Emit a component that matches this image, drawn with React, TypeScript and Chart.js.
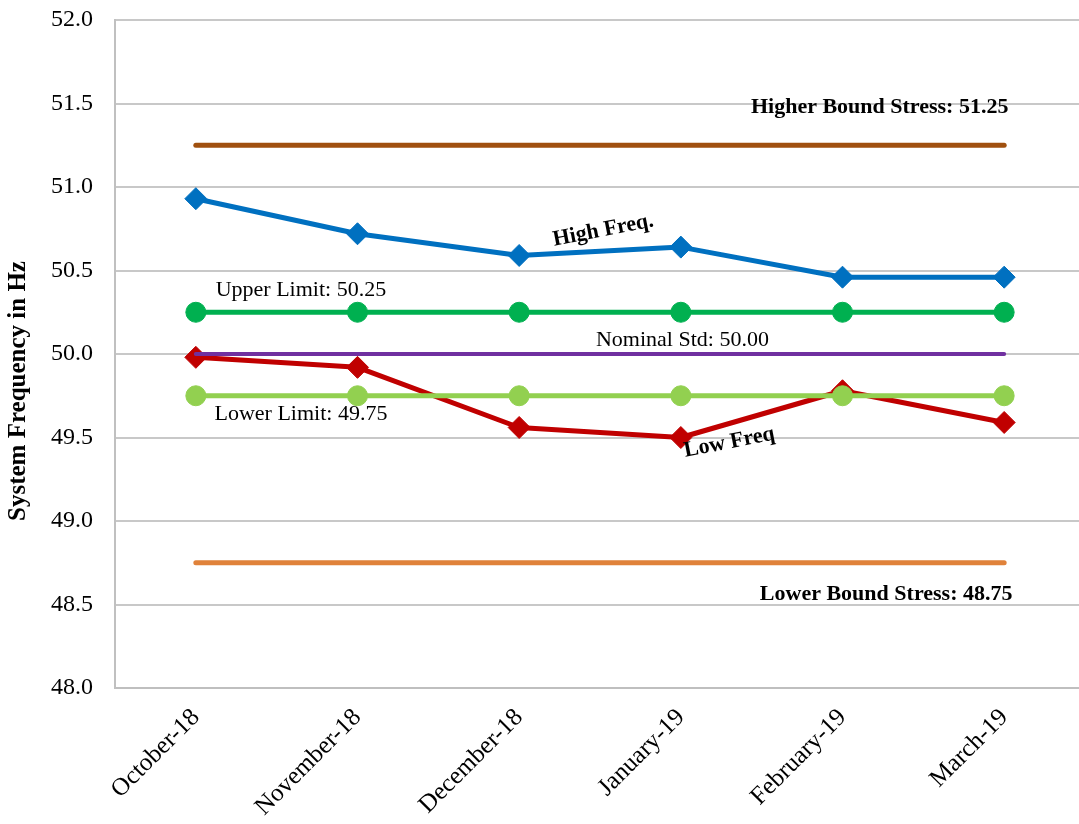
import React, { useEffect, useRef } from "react";
import { Chart, registerables } from "chart.js";

Chart.register(...registerables);

const categories = ["October-18", "November-18", "December-18", "January-19", "February-19", "March-19"];
const highFreq = [50.93, 50.72, 50.59, 50.64, 50.46, 50.46];
const lowFreq = [49.98, 49.92, 49.56, 49.5, 49.78, 49.59];
const higherBound = [51.25, 51.25, 51.25, 51.25, 51.25, 51.25];
const upperLimit = [50.25, 50.25, 50.25, 50.25, 50.25, 50.25];
const nominal = [50.0, 50.0, 50.0, 50.0, 50.0, 50.0];
const lowerLimit = [49.75, 49.75, 49.75, 49.75, 49.75, 49.75];
const lowerBound = [48.75, 48.75, 48.75, 48.75, 48.75, 48.75];

const yMin = 48;
const yMax = 52;
const yStep = 0.5;
const yTitle = "System Frequency in Hz";

// text annotations: text, category index (fractional), value, bold, angle deg
const labelTexts = ["Higher Bound Stress: 51.25", "High Freq.", "Upper Limit: 50.25", "Nominal Std: 50.00", "Lower Limit: 49.75", "Low Freq", "Lower Bound Stress: 48.75"];
const labelIdx = [4.23, 2.52, 0.65, 3.01, 0.65, 3.3, 4.27];
const labelVal = [51.48, 50.74, 50.38, 50.08, 49.64, 49.47, 48.56];
const labelBold = [true, true, false, false, false, true, true];
const labelAngle = [0, -11, 0, 0, 0, -11, 0];

const FONT = "'Liberation Serif', 'DejaVu Serif', serif";

export default function App() {
  const ref = useRef<HTMLCanvasElement | null>(null);
  useEffect(() => {
    document.body.style.margin = "0";
    document.documentElement.style.overflow = "hidden";
    document.body.style.overflow = "hidden";
    const canvas = ref.current;
    if (!canvas) return;

    const textPlugin = {
      id: "textLabels",
      afterDatasetsDraw(chart: any) {
        const ctx = chart.ctx;
        const xs = chart.scales.x;
        const ys = chart.scales.y;
        ctx.save();
        ctx.fillStyle = "#000";
        ctx.textAlign = "center";
        ctx.textBaseline = "middle";
        for (let i = 0; i < labelTexts.length; i++) {
          const px = xs.getPixelForValue(labelIdx[i]);
          const py = ys.getPixelForValue(labelVal[i]);
          ctx.save();
          ctx.translate(px, py);
          ctx.rotate((labelAngle[i] * Math.PI) / 180);
          ctx.font = (labelBold[i] ? "bold " : "") + "22px " + FONT;
          ctx.fillText(labelTexts[i], 0, 0);
          ctx.restore();
        }
        // y-axis title
        const ca = chart.chartArea;
        ctx.save();
        ctx.translate(19, (ca.top + ca.bottom) / 2 + 37);
        ctx.rotate(-Math.PI / 2);
        ctx.font = "bold 25px " + FONT;
        ctx.fillText(yTitle, 0, 0);
        ctx.restore();
        ctx.restore();
      },
    };

    const mk = (label: string, data: number[], color: string, width: number, style: any, radius: number, order: number) => ({
      label,
      data,
      borderColor: color,
      backgroundColor: color,
      borderWidth: width,
      borderCapStyle: "round",
      borderJoinStyle: "round",
      pointStyle: style,
      pointRadius: radius,
      pointHoverRadius: radius,
      pointBorderWidth: 1,
      pointBackgroundColor: color,
      pointBorderColor: color,
      tension: 0,
      fill: false,
      order,
    });

    const chart = new Chart(canvas, {
      type: "line",
      data: {
        labels: categories,
        datasets: [
          mk("Higher Bound Stress", higherBound, "#A0500F", 5, "circle", 0, 3) as any,
          mk("Upper Limit", upperLimit, "#00B050", 5, "circle", 10, 1),
          mk("Nominal Std", nominal, "#7030A0", 4, "circle", 0, 2),
          mk("Lower Limit", lowerLimit, "#92D050", 5, "circle", 10, 1),
          mk("Lower Bound Stress", lowerBound, "#E0823A", 5, "circle", 0, 3),
          mk("High Freq.", highFreq, "#0070C0", 5, "rectRot", 11, 5),
          mk("Low Freq", lowFreq, "#C00000", 5, "rectRot", 11, 5),
        ],
      },
      options: {
        animation: false,
        responsive: false,
        devicePixelRatio: 1,
        layout: { padding: { top: 20, right: 0, left: 0, bottom: 0 } },
        plugins: {
          legend: { display: false },
          tooltip: { enabled: false },
          title: { display: false },
        },
        scales: {
          x: {
            type: "category",
            offset: true,
            grid: { display: false, drawTicks: false },
            border: { display: true, color: "#BFBFBF", width: 2 },
            ticks: {
              color: "#000",
              font: { family: FONT, size: 25 },
              minRotation: 45,
              maxRotation: 45,
              padding: 15,
              autoSkip: false,
            },
            afterFit: (s: any) => {
              s.height = 136;
              s.paddingLeft = 0;
              s.paddingRight = 0;
              s.paddingTop = 0;
              s.paddingBottom = 0;
            },
          },
          y: {
            min: yMin,
            max: yMax,
            grid: { color: "#C8C8C8", lineWidth: 2, drawTicks: false },
            border: { display: true, color: "#C0C0C0", width: 2 },
            ticks: {
              stepSize: yStep,
              color: "#000",
              font: { family: FONT, size: 24 },
              padding: 22,
              callback: (v: any) => Number(v).toFixed(1),
            },
            title: { display: false },
            afterFit: (s: any) => {
              s.width = 115;
              s.paddingLeft = 0;
              s.paddingRight = 0;
              s.paddingTop = 0;
              s.paddingBottom = 0;
            },
          },
        },
      },
      plugins: [textPlugin],
    } as any);
    return () => chart.destroy();
  }, []);

  return (
    <div style={{ width: 1079, height: 824, overflow: "hidden" }}>
      <canvas ref={ref} width={1097} height={824} style={{ display: "block" }} />
    </div>
  );
}
